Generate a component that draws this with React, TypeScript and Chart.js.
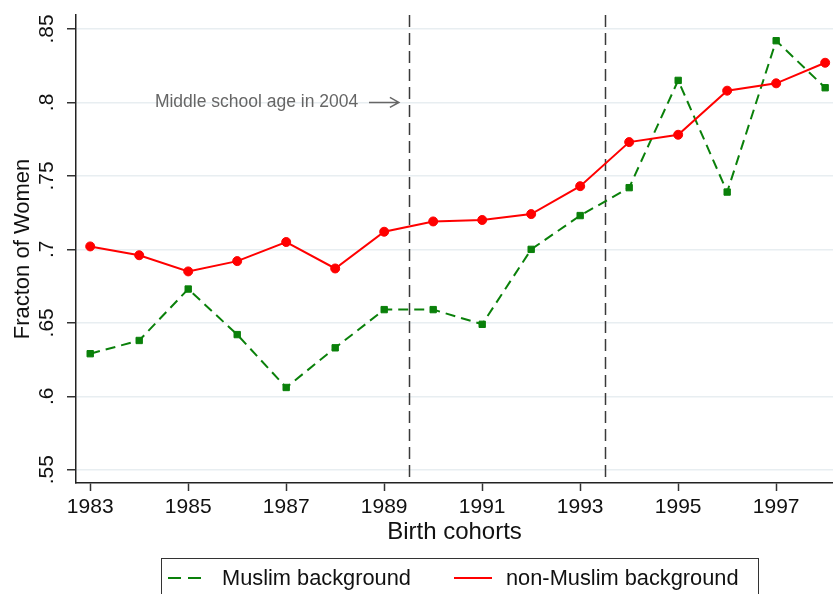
import React, { useEffect, useRef } from "react";
import { Chart, registerables } from "chart.js";

Chart.register(...registerables);

const years = [1983, 1984, 1985, 1986, 1987, 1988, 1989, 1990, 1991, 1992, 1993, 1994, 1995, 1996, 1997, 1998];
const muslim = [0.629, 0.638, 0.673, 0.642, 0.606, 0.633, 0.659, 0.659, 0.649, 0.700, 0.723, 0.742, 0.815, 0.739, 0.842, 0.810];
const nonMuslim = [0.702, 0.696, 0.685, 0.692, 0.705, 0.687, 0.712, 0.719, 0.720, 0.724, 0.743, 0.773, 0.778, 0.808, 0.813, 0.827];
const xTicks = [1983, 1985, 1987, 1989, 1991, 1993, 1995, 1997];
const yTicks = [0.55, 0.6, 0.65, 0.7, 0.75, 0.8, 0.85];
const yTickLabels = [".55", ".6", ".65", ".7", ".75", ".8", ".85"];
const refLines = [1989.5, 1993.5];
const noteText = "Middle school age in 2004";
const noteX = 1988.47;
const noteArrowFrom = 1988.69;
const noteArrowTo = 1989.3;
const noteY = 0.8;

const FONT = '"Liberation Sans", Arial, Helvetica, sans-serif';
const GREEN = "#0a800a";
const RED = "#ff0000";

const overlay = {
  id: "overlay",
  beforeDatasetsDraw(chart: any) {
    const { ctx, chartArea, scales } = chart;
    const x = scales.x;
    ctx.save();
    ctx.strokeStyle = "#3a3a3a";
    ctx.lineWidth = 1.5;
    ctx.setLineDash([12, 6]);
    refLines.forEach((v) => {
      const px = Math.round(x.getPixelForValue(v)) + 0.5;
      ctx.beginPath();
      ctx.moveTo(px, chartArea.top);
      ctx.lineTo(px, chartArea.bottom);
      ctx.stroke();
    });
    ctx.restore();
  },
  afterDraw(chart: any) {
    const { ctx, chartArea, scales } = chart;
    const x = scales.x;
    const y = scales.y;
    ctx.save();
    // rotated y tick labels
    ctx.fillStyle = "#111";
    ctx.font = `21px ${FONT}`;
    ctx.textAlign = "center";
    ctx.textBaseline = "middle";
    yTicks.forEach((v, i) => {
      const py = y.getPixelForValue(v);
      ctx.save();
      ctx.translate(chartArea.left - 29, py);
      ctx.rotate(-Math.PI / 2);
      ctx.fillText(yTickLabels[i], 0, 0);
      ctx.restore();
    });
    // annotation
    const ny = y.getPixelForValue(noteY);
    ctx.fillStyle = "#666";
    ctx.strokeStyle = "#666";
    ctx.font = `17.5px ${FONT}`;
    ctx.textAlign = "right";
    ctx.fillText(noteText, x.getPixelForValue(noteX), ny);
    const a0 = x.getPixelForValue(noteArrowFrom);
    const a1 = x.getPixelForValue(noteArrowTo);
    ctx.lineWidth = 1.5;
    ctx.beginPath();
    ctx.moveTo(a0, ny);
    ctx.lineTo(a1, ny);
    ctx.moveTo(a1 - 9, ny - 5);
    ctx.lineTo(a1, ny);
    ctx.lineTo(a1 - 9, ny + 5);
    ctx.stroke();
    // legend
    const ds = chart.data.datasets;
    ctx.strokeStyle = "#333";
    ctx.lineWidth = 1;
    ctx.strokeRect(161.5, 558.5, 597, 60);
    const items = [
      { x0: 168, x1: 202, tx: 222 },
      { x0: 454, x1: 492, tx: 506 },
    ];
    items.forEach((it, i) => {
      const d = ds[i];
      ctx.strokeStyle = d.borderColor;
      ctx.lineWidth = 2;
      ctx.setLineDash(d.borderDash && d.borderDash.length ? [13, 7] : []);
      ctx.beginPath();
      ctx.moveTo(it.x0, 578);
      ctx.lineTo(it.x1, 578);
      ctx.stroke();
      ctx.setLineDash([]);
      ctx.fillStyle = "#111";
      ctx.font = `21.8px ${FONT}`;
      ctx.textAlign = "left";
      ctx.textBaseline = "middle";
      ctx.fillText(d.label, it.tx, 579);
    });
    ctx.restore();
  },
};

export default function App() {
  const ref = useRef<HTMLCanvasElement | null>(null);
  useEffect(() => {
    document.body.style.margin = "0";
    const canvas = ref.current;
    if (!canvas) return;
    const chart = new Chart(canvas, {
      type: "line",
      data: {
        datasets: [
          {
            label: "Muslim background",
            data: years.map((yr, i) => ({ x: yr, y: muslim[i] })),
            borderColor: GREEN,
            backgroundColor: GREEN,
            borderWidth: 2,
            borderDash: [10, 6],
            pointStyle: "rect",
            pointRadius: 4.5,
            pointBorderWidth: 1,
            pointBackgroundColor: GREEN,
            pointBorderColor: GREEN,
            tension: 0,
            order: 1,
          },
          {
            label: "non-Muslim background",
            data: years.map((yr, i) => ({ x: yr, y: nonMuslim[i] })),
            borderColor: RED,
            backgroundColor: RED,
            borderWidth: 2,
            pointStyle: "circle",
            pointRadius: 4.5,
            pointBorderWidth: 1,
            pointBackgroundColor: RED,
            pointBorderColor: RED,
            tension: 0,
            order: 0,
          },
        ],
      },
      options: {
        animation: false,
        responsive: false,
        layout: { autoPadding: false, padding: { top: 15, left: 0, right: 0, bottom: 0 } },
        plugins: { legend: { display: false }, tooltip: { enabled: false } },
        font: { family: FONT },
        scales: {
          x: {
            type: "linear",
            min: 1982.71,
            max: 1998.16,
            afterBuildTicks: (s: any) => {
              s.ticks = xTicks.map((v) => ({ value: v }));
            },
            afterFit: (s: any) => {
              s.height = 111;
              s.paddingLeft = 0;
              s.paddingRight = 0;
            },
            ticks: {
              autoSkip: false,
              maxRotation: 0,
              minRotation: 0,
              padding: 4,
              color: "#111",
              font: { size: 21, family: FONT },
              callback: (v: any) => String(v),
            },
            grid: {
              drawOnChartArea: false,
              drawTicks: true,
              tickLength: 8,
              tickColor: "#333",
              tickWidth: 1.5,
            },
            border: { color: "#222", width: 1.5 },
            title: {
              display: true,
              text: "Birth cohorts",
              color: "#111",
              font: { size: 24, family: FONT, lineHeight: 1 },
              padding: { top: 0, bottom: 50 },
            },
          },
          y: {
            type: "linear",
            min: 0.541,
            max: 0.8595,
            afterBuildTicks: (s: any) => {
              s.ticks = yTicks.map((v) => ({ value: v }));
            },
            afterFit: (s: any) => {
              s.width = 76;
            },
            ticks: { display: false },
            grid: {
              color: "#e8eef1",
              lineWidth: 1.5,
              drawTicks: true,
              tickLength: 9,
              tickColor: "#333",
              tickWidth: 1.5,
            },
            border: { color: "#222", width: 1.5 },
            title: {
              display: true,
              text: "Fracton of Women",
              color: "#111",
              font: { size: 22, family: FONT, lineHeight: 1 },
              padding: { top: 12, bottom: 0 },
            },
          },
        },
      },
      plugins: [overlay],
    } as any);
    return () => chart.destroy();
  }, []);
  return (
    <div style={{ width: 833, height: 594, background: "#fff" }}>
      <canvas ref={ref} width={833} height={594} style={{ display: "block" }} />
    </div>
  );
}
